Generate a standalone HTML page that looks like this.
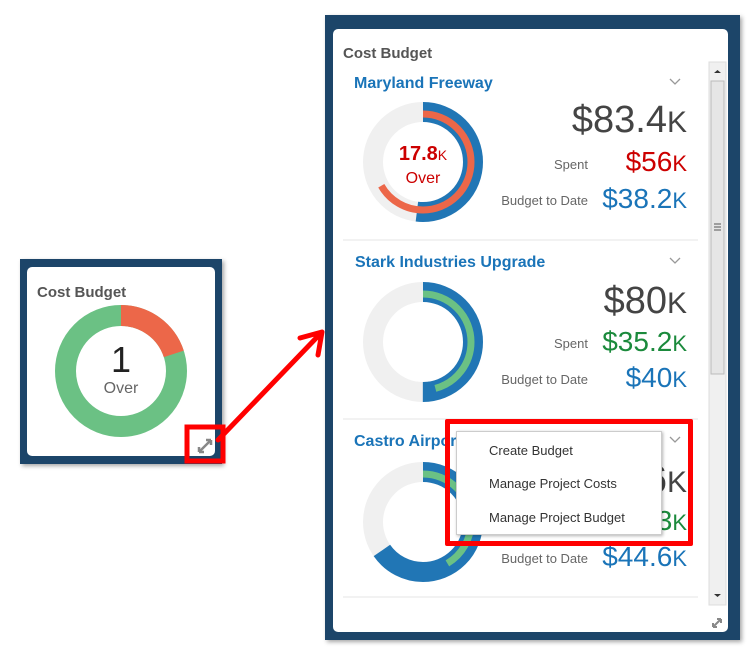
<!DOCTYPE html>
<html><head><style>
body{margin:0;background:#fff;width:754px;height:659px;position:relative;overflow:hidden;font-family:"Liberation Sans",sans-serif}
.a{position:absolute;white-space:nowrap}
</style></head><body>
<svg width="754" height="659" style="position:absolute;left:0;top:0">
<defs><filter id="sh" x="-10%" y="-10%" width="120%" height="120%"><feDropShadow dx="2" dy="2" stdDeviation="2" flood-color="#000" flood-opacity="0.35"/></filter></defs>
<!-- left widget -->
<rect x="20" y="259" width="202" height="205" fill="#1d4569" filter="url(#sh)"/>
<rect x="27" y="267" width="188" height="189" rx="5" fill="#fff"/>
<circle cx="121" cy="371" r="55.5" fill="none" stroke="#6bc184" stroke-width="21"/>
<circle cx="121" cy="371" r="55.5" fill="none" stroke="#ec6749" stroke-width="21" stroke-dasharray="69.7 400" transform="rotate(-90 121 371)"/>
<rect x="187" y="427" width="36" height="34" fill="none" stroke="#f00" stroke-width="5"/>
<path d="M199 452 L211 440 M199 452 l0-5 M199 452 l5 0 M211 440 l-5 0 M211 440 l0 5" stroke="#888" stroke-width="2.5" fill="none"/>
<!-- arrow -->
<path d="M218 440 L322 332 M322 332 L300 338 M322 332 L318 355" stroke="#f00" stroke-width="5" fill="none" stroke-linecap="round"/>
<!-- right panel -->
<rect x="325" y="15" width="415" height="625" fill="#1d4569" filter="url(#sh)"/>
<rect x="333" y="29" width="395" height="603" rx="5" fill="#fff"/>
<rect x="709" y="62" width="17" height="543" fill="#f0f0f0" stroke="#ddd"/>
<rect x="711" y="81" width="13" height="293" fill="#e6e6e6" stroke="#bbb"/>
<path d="M714 73 l3.5-3 3.5 3z M714 594 l3.5 3 3.5-3z" fill="#333"/>
<path d="M714 224h7M714 227h7M714 230h7" stroke="#555"/>
<line x1="343" y1="240" x2="698" y2="240" stroke="#e5e5e5"/>
<line x1="343" y1="419" x2="698" y2="419" stroke="#e5e5e5"/>
<line x1="343" y1="597" x2="698" y2="597" stroke="#e5e5e5"/>
<path d="M670 79l5 5 5-5M670 258l5 5 5-5M670 437l5 5 5-5" stroke="#999" stroke-width="1.3" fill="none"/>
<!-- donut1 -->
<circle cx="423" cy="162" r="50" fill="none" stroke="#f0f0f0" stroke-width="20"/>
<circle cx="423" cy="162" r="50" fill="none" stroke="#2176b5" stroke-width="20" stroke-dasharray="163 400" transform="rotate(-90 423 162)"/>
<circle cx="423" cy="162" r="48" fill="none" stroke="#ec6749" stroke-width="7" stroke-dasharray="201 400" transform="rotate(-90 423 162)"/>
<!-- donut2 -->
<circle cx="423" cy="342" r="50" fill="none" stroke="#f0f0f0" stroke-width="20"/>
<circle cx="423" cy="342" r="50" fill="none" stroke="#2176b5" stroke-width="20" stroke-dasharray="157 400" transform="rotate(-90 423 342)"/>
<circle cx="423" cy="342" r="48" fill="none" stroke="#6bc184" stroke-width="7" stroke-dasharray="138 400" transform="rotate(-90 423 342)"/>
<!-- donut3 -->
<circle cx="423" cy="522" r="50" fill="none" stroke="#f0f0f0" stroke-width="20"/>
<circle cx="423" cy="522" r="50" fill="none" stroke="#2176b5" stroke-width="20" stroke-dasharray="205 400" transform="rotate(-90 423 522)"/>
<circle cx="423" cy="522" r="48" fill="none" stroke="#6bc184" stroke-width="7" stroke-dasharray="125 400" transform="rotate(-90 423 522)"/>
<path d="M713 627 l8-8 M713 627 l0-4 M713 627 l4 0 M721 619 l-4 0 M721 619 l0 4" stroke="#888" stroke-width="2" fill="none"/>
</svg>
<div class="a" style="left:37px;top:284px;font-size:15px;font-weight:bold;color:#555">Cost Budget</div>
<div class="a" style="left:0;width:242px;text-align:center;top:339px;font-size:36px;color:#222">1</div>
<div class="a" style="left:0;width:242px;text-align:center;top:380px;font-size:16px;color:#666">Over</div>

<div class="a" style="left:343px;top:45px;font-size:15px;font-weight:bold;color:#555">Cost Budget</div>
<div class="a" style="left:354px;top:75px;font-size:16px;font-weight:bold;color:#1a74b8">Maryland Freeway</div>
<div class="a" style="left:355px;top:254px;font-size:16px;font-weight:bold;color:#1a74b8">Stark Industries Upgrade</div>
<div class="a" style="left:354px;top:433px;font-size:16px;font-weight:bold;color:#1a74b8">Castro Airport</div>

<div class="a" style="left:373px;width:100px;text-align:center;top:143px;font-size:20px;font-weight:bold;color:#cc0000">17.8<span style="font-size:14px;font-weight:normal">K</span></div>
<div class="a" style="left:373px;width:100px;text-align:center;top:170px;font-size:16px;color:#cc0000">Over</div>

<div class="a" style="right:67px;top:99px;font-size:38px;color:#444">$83.4<span style="font-size:30px">K</span></div>
<div class="a" style="right:166px;top:157px;font-size:13px;color:#666">Spent</div>
<div class="a" style="right:67px;top:146px;font-size:28px;color:#cc0000">$56<span style="font-size:22px">K</span></div>
<div class="a" style="right:166px;top:193px;font-size:13px;color:#666">Budget to Date</div>
<div class="a" style="right:67px;top:183px;font-size:28px;color:#1a74b8">$38.2<span style="font-size:22px">K</span></div>

<div class="a" style="right:67px;top:280px;font-size:38px;color:#444">$80<span style="font-size:30px">K</span></div>
<div class="a" style="right:166px;top:336px;font-size:13px;color:#666">Spent</div>
<div class="a" style="right:67px;top:326px;font-size:28px;color:#1b8a3c">$35.2<span style="font-size:22px">K</span></div>
<div class="a" style="right:166px;top:372px;font-size:13px;color:#666">Budget to Date</div>
<div class="a" style="right:67px;top:362px;font-size:28px;color:#1a74b8">$40<span style="font-size:22px">K</span></div>

<div class="a" style="right:67px;top:459px;font-size:38px;color:#444">6<span style="font-size:30px">K</span></div>
<div class="a" style="right:67px;top:505px;font-size:28px;color:#1b8a3c">3<span style="font-size:22px">K</span></div>
<div class="a" style="right:166px;top:551px;font-size:13px;color:#666">Budget to Date</div>
<div class="a" style="right:67px;top:541px;font-size:28px;color:#1a74b8">$44.6<span style="font-size:22px">K</span></div>

<div class="a" style="left:456px;top:431px;width:204px;height:102px;background:#fff;border:1px solid #ccc;box-shadow:1px 1px 3px rgba(0,0,0,.3);font-size:13px;color:#333">
<div class="a" style="left:32px;top:11px">Create Budget</div>
<div class="a" style="left:32px;top:44px">Manage Project Costs</div>
<div class="a" style="left:32px;top:78px">Manage Project Budget</div>
</div>
<div class="a" style="left:445px;top:419px;width:238px;height:117px;border:5px solid #f00;border-radius:2px"></div>
</body></html>
